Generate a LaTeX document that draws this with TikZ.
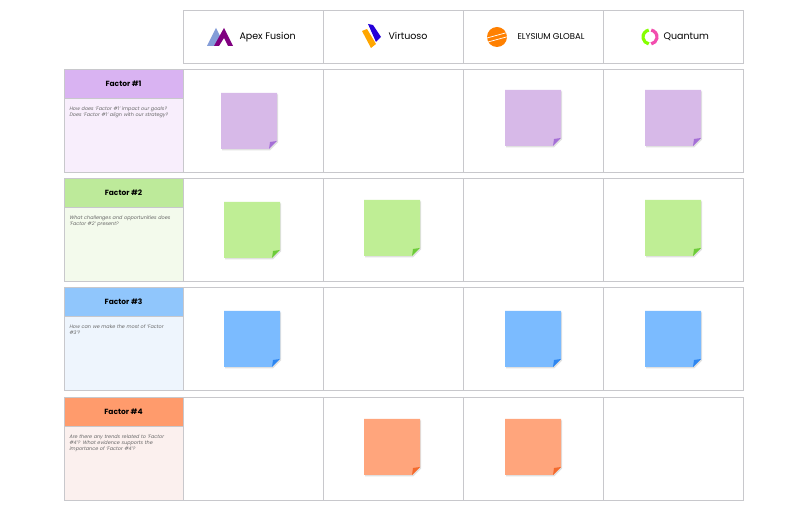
\documentclass[tikz,border=0pt]{standalone}
\usepackage{fontspec}
\setmainfont{Poppins}
\definecolor{gridline}{HTML}{C8C8CC}
\definecolor{purpH}{HTML}{D9B3F2}\definecolor{purpB}{HTML}{F8EEFC}\definecolor{purpS}{HTML}{D7B9E8}\definecolor{purpF}{HTML}{A46FD6}
\definecolor{grnH}{HTML}{BDEA9A}\definecolor{grnB}{HTML}{F3FAEC}\definecolor{grnS}{HTML}{BFEE95}\definecolor{grnF}{HTML}{6DCB3A}
\definecolor{bluH}{HTML}{90C6FC}\definecolor{bluB}{HTML}{EEF5FD}\definecolor{bluS}{HTML}{7BBBFF}\definecolor{bluF}{HTML}{2E86F0}
\definecolor{orgH}{HTML}{FF9B6C}\definecolor{orgB}{HTML}{FBF0EE}\definecolor{orgS}{HTML}{FFA57C}\definecolor{orgF}{HTML}{F26A2E}
\begin{document}
\lefthyphenmin=62 \righthyphenmin=62
\begin{tikzpicture}[x=1pt,y=-1pt,font=\small,
  cell/.style={draw=gridline,line width=0.6pt},
  logo/.style={font=\fontsize{9.5}{11}\selectfont,anchor=west},
  qtext/.style={font=\fontsize{4.9}{6.4}\selectfont\itshape,text=black!60,align=left,text width=104pt,anchor=north west}]
\useasboundingbox (0,0) rectangle (807,510);

% header row
\foreach \x in {183,323,463,603}{%
\draw[cell,fill=white] (\x,10) rectangle ++(140,53);
}
% logos
\node[logo] (apex) at (236,37) {Apex Fusion};
\fill[cyan!40!blue!50] (207,46) -- (216,28) -- (221,38) -- (216,46) -- cycle;
\fill[violet] (214,46) -- (224,28) -- (233,46) -- (228,46) -- (224,38) -- (219,46) -- cycle;
\node[logo] (virtuoso) at (385,36) {Virtuoso};
\fill[orange!70!yellow] (362,31) -- (367,29) -- (376,44) -- (371,48) -- cycle;
\fill[blue!70!violet] (368,24) -- (373,25) -- (381,37) -- (376,42) -- cycle;
\node[logo,font=\fontsize{8.5}{10}\selectfont] (elysium) at (514,37) {ELYSIUM GLOBAL};
\fill[orange] (497,37) circle (10pt);
\draw[white,line width=0.7pt] (487,38) -- (509,32) (488,42) -- (510,36);
\node[logo] (quantum) at (660,37) {Quantum};
\draw[lime!70!green,line width=3.2pt] (650,37) ++(100:7pt) arc (100:260:7pt);
\draw[magenta!70,line width=3.2pt] (650,37) ++(80:7pt) arc (80:-80:7pt);

% factor rows
\foreach \i/\y/\c/\q in {%
 1/69/purp/{How does 'Factor \#1' impact our goals? Does 'Factor \#1' align with our strategy?},
 2/178/grn/{What challenges and opportunities does 'Factor \#2' present?},
 3/287/blu/{How can we make the most of 'Factor \#3'?},
 4/397/org/{Are there any trends related to 'Factor \#4'? What evidence supports the importance of 'Factor \#4'?}}{%
\draw[cell,fill=\c B] (64,\y) rectangle ++(119,103);
\draw[cell,fill=\c H] (64,\y) rectangle ++(119,29);
\node[font=\fontsize{7.5}{8}\selectfont\bfseries] (factor\i) at (123.5,\y+14.5) {Factor \#\i};
\node[qtext] (quest\i) at (66,\y+34) {\q};
\foreach \x in {183,323,463,603}{%
\draw[cell,fill=white] (\x,\y) rectangle ++(140,103);
}
}

% sticky notes
\foreach \x/\y/\c in {221/93/purp,505/90/purp,645/90/purp,
 224/202/grn,364/200/grn,645/200/grn,
 224/311/blu,505/311/blu,645/311/blu,
 364/419/org,505/419/org}{%
\fill[black!12] (\x+1,\y+1.5) -- ++(56,0) -- ++(0,48) -- ++(-8,8) -- ++(-48,0) -- cycle;
\fill[\c S] (\x,\y) -- ++(56,0) -- ++(0,48) -- ++(-8,8) -- ++(-48,0) -- cycle;
\fill[\c F] (\x+56,\y+48) -- ++(-8,8) -- ++(1,-7) -- cycle;
}
\end{tikzpicture}
\end{document}
